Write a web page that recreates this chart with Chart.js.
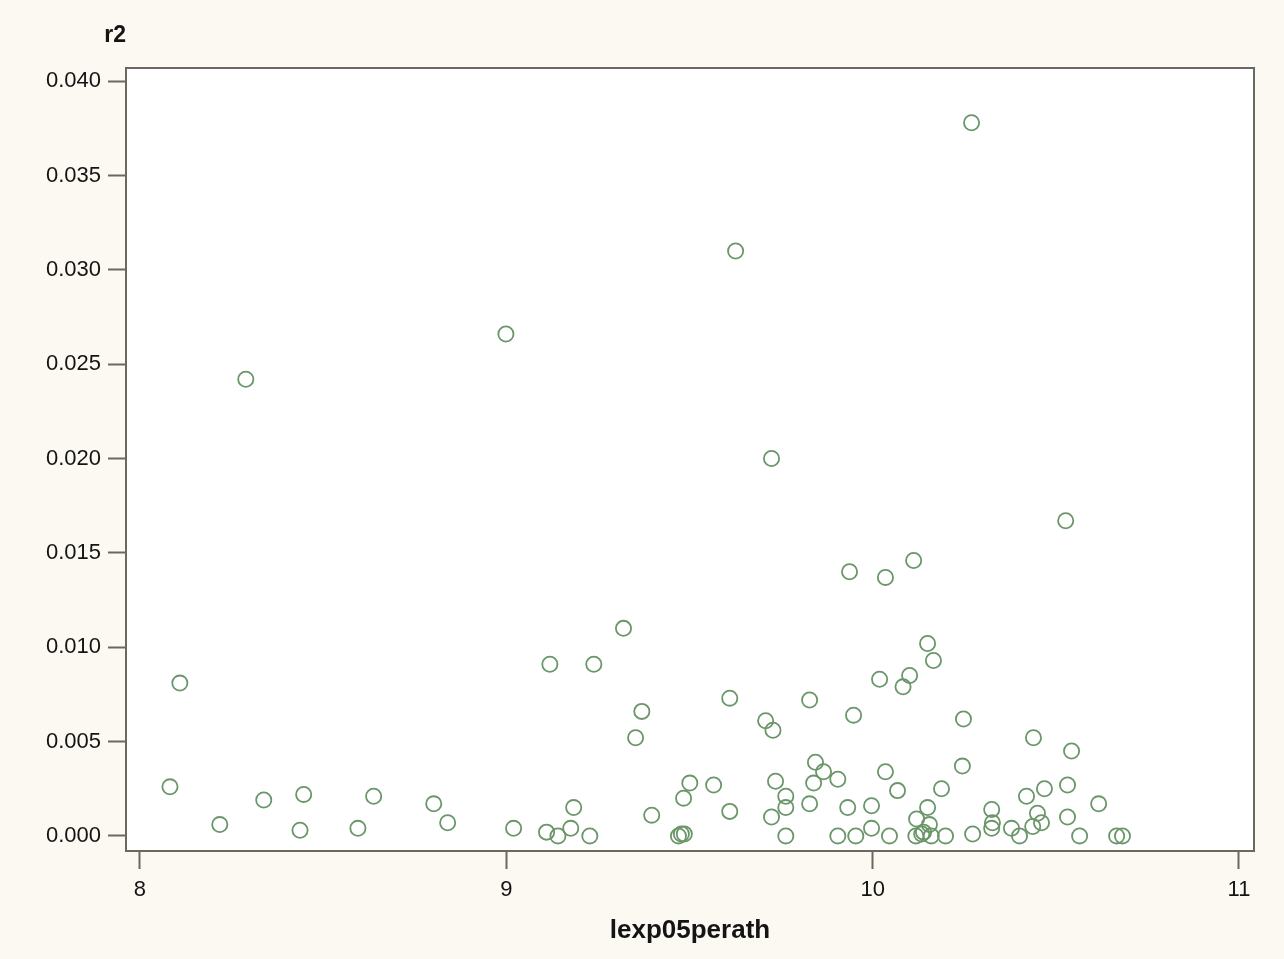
<!DOCTYPE html>
<html>
<head>
<meta charset="utf-8">
<title>r2 by lexp05perath</title>
<script src="https://cdn.jsdelivr.net/npm/chart.js@4/dist/chart.umd.min.js"></script>
<style>
  html, body { margin: 0; padding: 0; background: #fcf9f2; }
  #wrap { width: 1284px; height: 959px; position: relative; }
</style>
</head>
<body>
<div id="wrap"><canvas id="chart" width="1284" height="959"></canvas></div>
<script>
// Observations: lexp05perath (x) and r2 (y), in matching order
const lexp05perath = [
  8.082, 8.109, 8.218, 8.289, 8.338, 8.437, 8.447, 8.595, 8.638, 8.802,
  8.840, 8.999, 9.020, 9.110, 9.119, 9.141, 9.176, 9.184, 9.228, 9.239,
  9.320, 9.353, 9.370, 9.397, 9.470, 9.478, 9.486, 9.484, 9.501, 9.566,
  9.610, 9.610, 9.626, 9.708, 9.724, 9.728, 9.724, 9.735, 9.763, 9.763,
  9.763, 9.828, 9.828, 9.839, 9.844, 9.866, 9.905, 9.905, 9.932, 9.937,
  9.948, 9.954, 9.997, 9.997, 10.019, 10.035, 10.035, 10.046, 10.068, 10.083,
  10.101, 10.112, 10.150, 10.166, 10.188, 10.120, 10.150, 10.155, 10.118, 10.134,
  10.139, 10.160, 10.199, 10.245, 10.248, 10.270, 10.273, 10.325, 10.327, 10.325,
  10.379, 10.401, 10.420, 10.437, 10.439, 10.450, 10.461, 10.469, 10.527, 10.532,
  10.532, 10.543, 10.565, 10.617, 10.666, 10.682
];
const r2 = [
  0.0026, 0.0081, 0.0006, 0.0242, 0.0019, 0.0003, 0.0022, 0.0004, 0.0021, 0.0017,
  0.0007, 0.0266, 0.0004, 0.0002, 0.0091, 0.0000, 0.0004, 0.0015, 0.0000, 0.0091,
  0.0110, 0.0052, 0.0066, 0.0011, 0.0000, 0.0001, 0.0001, 0.0020, 0.0028, 0.0027,
  0.0073, 0.0013, 0.0310, 0.0061, 0.0200, 0.0056, 0.0010, 0.0029, 0.0021, 0.0015,
  0.0000, 0.0072, 0.0017, 0.0028, 0.0039, 0.0034, 0.0030, 0.0000, 0.0015, 0.0140,
  0.0064, 0.0000, 0.0016, 0.0004, 0.0083, 0.0137, 0.0034, 0.0000, 0.0024, 0.0079,
  0.0085, 0.0146, 0.0102, 0.0093, 0.0025, 0.0009, 0.0015, 0.0006, 0.0000, 0.0001,
  0.0002, 0.0000, 0.0000, 0.0037, 0.0062, 0.0378, 0.0001, 0.0014, 0.0007, 0.0004,
  0.0004, 0.0000, 0.0021, 0.0005, 0.0052, 0.0012, 0.0007, 0.0025, 0.0167, 0.0027,
  0.0010, 0.0045, 0.0000, 0.0017, 0.0000, 0.0000
];

// Axis tick positions
const xTicks = [8, 9, 10, 11];
const yTicks = [0, 0.005, 0.010, 0.015, 0.020, 0.025, 0.030, 0.035, 0.040];

const points = lexp05perath.map((x, i) => ({ x: x, y: r2[i] }));

const FONT = '"Liberation Sans", Arial, sans-serif';
const AXIS_COLOR = '#6a6960';
const TEXT_COLOR = '#141414';

// Paints the page background, the white plot area, its frame and the "r2" heading
const framePlugin = {
  id: 'frame',
  beforeDraw(chart) {
    const { ctx, chartArea: a } = chart;
    ctx.save();
    ctx.fillStyle = '#fcf9f2';
    ctx.fillRect(0, 0, chart.width, chart.height);
    ctx.fillStyle = '#ffffff';
    ctx.fillRect(a.left, a.top, a.right - a.left, a.bottom - a.top);
    ctx.restore();
  },
  afterDatasetsDraw(chart) {
    const { ctx, chartArea: a } = chart;
    ctx.save();
    ctx.strokeStyle = AXIS_COLOR;
    ctx.lineWidth = 2;
    ctx.strokeRect(a.left, a.top, a.right - a.left, a.bottom - a.top);
    ctx.fillStyle = TEXT_COLOR;
    ctx.font = 'bold 23px ' + FONT;
    ctx.textAlign = 'right';
    ctx.textBaseline = 'middle';
    ctx.fillText('r2', a.left, 36);
    ctx.restore();
  }
};

new Chart(document.getElementById('chart'), {
  type: 'scatter',
  data: {
    datasets: [{
      label: 'r2',
      data: points,
      pointStyle: 'circle',
      pointRadius: 7.6,
      pointHoverRadius: 7.6,
      pointBorderWidth: 1.8,
      pointBackgroundColor: 'rgba(0,0,0,0)',
      pointBorderColor: '#6a966a'
    }]
  },
  options: {
    responsive: false,
    animation: false,
    events: [],
    layout: { padding: { left: 0, right: 30, top: 68, bottom: 0 } },
    plugins: {
      legend: { display: false },
      tooltip: { enabled: false }
    },
    scales: {
      x: {
        type: 'linear',
        min: 7.962,
        max: 11.041,
        afterBuildTicks(scale) { scale.ticks = xTicks.map(v => ({ value: v })); },
        afterFit(scale) { scale.height = 108; },
        grid: {
          drawOnChartArea: false,
          drawTicks: true,
          tickLength: 18,
          tickWidth: 2,
          tickColor: AXIS_COLOR
        },
        border: { display: true, color: AXIS_COLOR, width: 2 },
        ticks: {
          color: TEXT_COLOR,
          font: { family: FONT, size: 22 },
          padding: 8,
          maxRotation: 0,
          callback: v => String(v)
        },
        title: {
          display: true,
          text: 'lexp05perath',
          color: TEXT_COLOR,
          font: { family: FONT, size: 26, weight: 'bold' },
          padding: { top: 0, bottom: 13 }
        }
      },
      y: {
        type: 'linear',
        min: -0.0008,
        max: 0.0407,
        afterBuildTicks(scale) { scale.ticks = yTicks.map(v => ({ value: v })); },
        afterFit(scale) { scale.width = 126; },
        grid: {
          drawOnChartArea: false,
          drawTicks: true,
          tickLength: 18,
          tickWidth: 2,
          tickColor: AXIS_COLOR
        },
        border: { display: true, color: AXIS_COLOR, width: 2 },
        ticks: {
          color: TEXT_COLOR,
          font: { family: FONT, size: 22 },
          padding: 7,
          callback: v => v.toFixed(3)
        }
      }
    }
  },
  plugins: [framePlugin]
});
</script>
</body>
</html>
